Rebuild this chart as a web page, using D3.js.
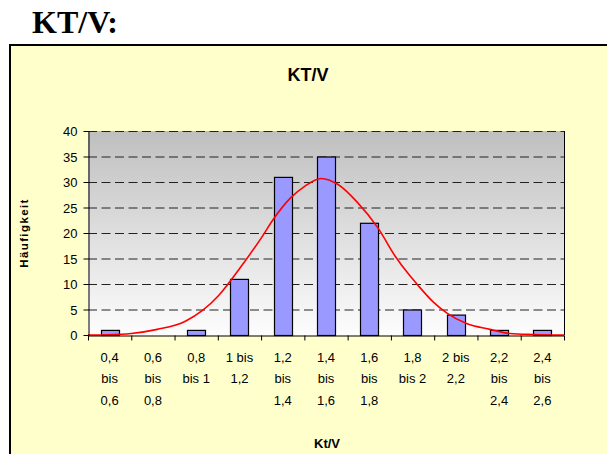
<!DOCTYPE html>
<html>
<head>
<meta charset="utf-8">
<script src="https://cdn.jsdelivr.net/npm/d3@7"></script>
<style>
  html, body { margin: 0; padding: 0; background: #fff; }
  svg { display: block; }
  text { font-family: Arial, "Liberation Sans", sans-serif; fill: #000; }
</style>
</head>
<body>
<svg id="chart" width="607" height="454"></svg>
<script>
// Kt/V classes and how often they occur
const categories = ['0,4 bis 0,6', '0,6 bis 0,8', '0,8 bis 1', '1 bis 1,2', '1,2 bis 1,4', '1,4 bis 1,6',
                    '1,6 bis 1,8', '1,8 bis 2', '2 bis 2,2', '2,2 bis 2,4', '2,4 bis 2,6'];
const counts = [1, 0, 1, 11, 31, 35, 22, 5, 4, 1, 1];
const classBounds = [0.4, 0.6, 0.8, 1.0, 1.2, 1.4, 1.6, 1.8, 2.0, 2.2, 2.4, 2.6];

// red fitted curve (Kt/V value, count)
const curveX = [0.40, 0.49, 0.60, 0.72, 0.85, 1.005, 1.10, 1.205, 1.255, 1.334, 1.403, 1.477,
                1.556, 1.643, 1.74, 1.819, 1.888, 1.92, 1.995, 2.059, 2.147, 2.258, 2.35, 2.457, 2.60];
const curveY = [0, 0.05, 0.3, 1.1, 2.7, 7.8, 13, 19.3, 22.6, 26.8, 29.2, 30.7,
                29.5, 26.1, 21, 15.5, 11.6, 10, 6.5, 4.3, 2.3, 1.1, 0.3, 0.1, 0];

const yTicks = [0, 5, 10, 15, 20, 25, 30, 35, 40];

const svg = d3.select('#chart');
const plot = {left: 88, right: 564, top: 131, bottom: 335};

// page heading
svg.append('text')
    .attr('x', 32).attr('y', 33)
    .style('font-family', '"Liberation Serif", "Times New Roman", serif')
    .style('font-weight', 'bold').style('font-size', '32px')
    .text('KT/V:');

// chart box
svg.append('rect')
    .attr('x', 10).attr('y', 45).attr('width', 620).attr('height', 440)
    .attr('fill', '#ffffcc').attr('stroke', '#000').attr('stroke-width', 2);

svg.append('text')
    .attr('x', 308).attr('y', 81).attr('text-anchor', 'middle')
    .style('font-weight', 'bold').style('font-size', '18px')
    .text('KT/V');

const x = d3.scaleBand().domain(categories)
    .range([plot.left, plot.right]).paddingInner(0.58).paddingOuter(0.29);
const xLin = d3.scaleLinear().domain([0.4, 2.6]).range([plot.left, plot.right]);
const y = d3.scaleLinear().domain([0, 40]).range([plot.bottom, plot.top]);

// plot background gradient
const grad = svg.append('defs').append('linearGradient')
    .attr('id', 'bg').attr('x1', 0).attr('y1', 0).attr('x2', 0).attr('y2', 1);
grad.append('stop').attr('offset', '0%').attr('stop-color', '#bfbfbf');
grad.append('stop').attr('offset', '100%').attr('stop-color', '#fdfdfd');

svg.append('rect')
    .attr('x', plot.left).attr('y', plot.top)
    .attr('width', plot.right - plot.left).attr('height', plot.bottom - plot.top)
    .attr('fill', 'url(#bg)');

// dashed grid
svg.append('g').selectAll('line')
    .data(yTicks.filter(d => d > 0))
    .join('line')
    .attr('x1', plot.left).attr('x2', plot.right)
    .attr('y1', d => y(d) + 0.5).attr('y2', d => y(d) + 0.5)
    .attr('stroke', '#222').attr('stroke-width', 1)
    .attr('stroke-dasharray', '9,4.5');

// right border
svg.append('line')
    .attr('x1', plot.right + 0.5).attr('x2', plot.right + 0.5)
    .attr('y1', plot.top).attr('y2', plot.bottom)
    .attr('stroke', '#000');

// bars
svg.append('g').selectAll('rect')
    .data(counts)
    .join('rect')
    .attr('x', (d, i) => Math.round(x(categories[i])) + 0.5)
    .attr('y', d => y(d) + 0.5)
    .attr('width', Math.round(x.bandwidth()))
    .attr('height', d => plot.bottom - y(d))
    .attr('fill', '#9999ff')
    .attr('stroke', '#000').attr('stroke-width', 1.2);

// fitted curve
svg.append('path')
    .datum(curveX.map((v, i) => [v, curveY[i]]))
    .attr('fill', 'none').attr('stroke', '#ff0000').attr('stroke-width', 1.6)
    .attr('d', d3.line().curve(d3.curveMonotoneX).x(d => xLin(d[0])).y(d => y(d[1])));

// axes
const yAxis = svg.append('g')
    .attr('transform', `translate(${plot.left + 0.5},0)`)
    .call(d3.axisLeft(y).tickValues(yTicks).tickSize(5).tickPadding(6).tickSizeOuter(0));
yAxis.selectAll('text').style('font-size', '13px').attr('dy', '0.35em');
yAxis.selectAll('line, path').attr('stroke', '#000');

const xAxis = svg.append('g')
    .attr('transform', `translate(0,${plot.bottom + 0.5})`)
    .call(d3.axisBottom(xLin).tickValues(classBounds).tickFormat('').tickSize(5).tickSizeOuter(0));
xAxis.selectAll('line, path').attr('stroke', '#000');

// wrapped category labels
const labels = svg.append('g').selectAll('text')
    .data(categories)
    .join('text')
    .attr('text-anchor', 'middle')
    .style('font-size', '13px')
    .attr('transform', d => `translate(${x(d) + x.bandwidth() / 2},362)`);

labels.each(function(label) {
    const t = d3.select(this);
    const words = label.split(' ');
    let lines = [], line = [];
    const probe = t.append('tspan');
    words.forEach(w => {
        const test = line.concat(w).join(' ');
        probe.text(test);
        if (line.length && probe.node().getComputedTextLength() > 32) {
            lines.push(line.join(' '));
            line = [w];
        } else {
            line.push(w);
        }
    });
    lines.push(line.join(' '));
    probe.remove();
    lines.forEach((l, i) => {
        t.append('tspan').attr('x', 0).attr('y', i * 21.4).text(l);
    });
});

// axis titles
svg.append('text')
    .attr('x', 327).attr('y', 448).attr('text-anchor', 'middle')
    .style('font-weight', 'bold').style('font-size', '13px')
    .text('Kt/V');

svg.append('text')
    .attr('transform', `translate(28,${(plot.top + plot.bottom) / 2}) rotate(-90)`)
    .attr('text-anchor', 'middle')
    .style('font-weight', 'bold').style('font-size', '11.5px')
    .style('letter-spacing', '1.4px')
    .text('Häufigkeit');
</script>
</body>
</html>
